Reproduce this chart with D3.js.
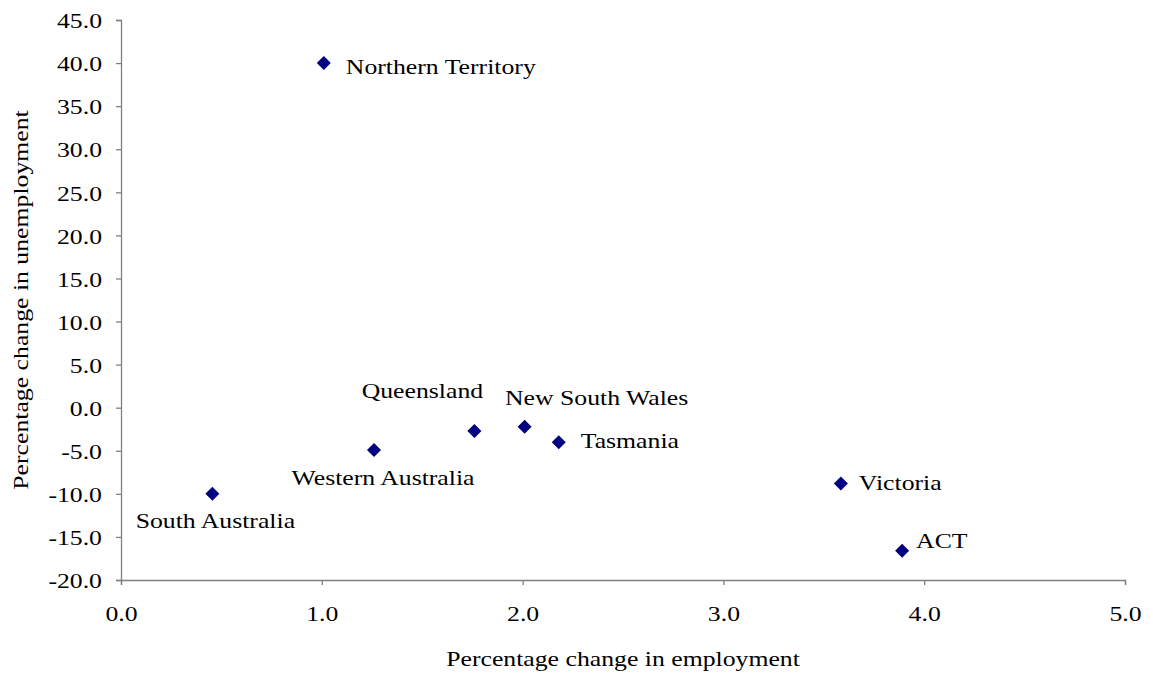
<!DOCTYPE html>
<html>
<head>
<meta charset="utf-8">
<script src="https://cdn.jsdelivr.net/npm/d3@7"></script>
<style>
  body { margin: 0; background: #fff; }
  text { font-family: "Liberation Serif", "Times New Roman", serif; fill: #000; }
</style>
</head>
<body>
<div id="container"></div>
<script>
// states / territories
const names = ['Northern Territory', 'Queensland', 'New South Wales', 'Tasmania',
               'Western Australia', 'South Australia', 'Victoria', 'ACT'];
// percentage change in employment
const employment = [1.01, 1.76, 2.01, 2.18, 1.26, 0.455, 3.585, 3.89];
// percentage change in unemployment
const unemployment = [40.0, -2.7, -2.2, -4.0, -4.9, -10.0, -8.8, -16.6];

const xTicks = [0, 1, 2, 3, 4, 5];
const yTicks = [-20, -15, -10, -5, 0, 5, 10, 15, 20, 25, 30, 35, 40, 45];

// label placement relative to each point
const labelPos = {
    'Northern Territory': [22, 11, 'start'],
    'Queensland': [-52, -33, 'middle'],
    'New South Wales': [72, -22, 'middle'],
    'Tasmania': [22, 6, 'start'],
    'Western Australia': [9, 35, 'middle'],
    'South Australia': [3, 34, 'middle'],
    'Victoria': [18, 6, 'start'],
    'ACT': [14, -3, 'start']
};

const w = 1153;
const h = 673;
const fontSize = '22px';
const stretch = 1.17;   // the original type is set wide

const xScale = d3.scaleLinear().domain([0, 5]).range([121, 1125]);
const yScale = d3.scaleLinear().domain([-20, 45]).range([580, 20]);

const svg = d3.select('#container')
                .append('svg')
                .attr('width', w)
                .attr('height', h);

const fmt = d => d.toFixed(1);
const xAxis = d3.axisBottom(xScale).tickValues(xTicks).tickSize(5).tickFormat(fmt);
const yAxis = d3.axisLeft(yScale).tickValues(yTicks).tickSize(5).tickFormat(fmt);

const gx = svg.append('g')
    .attr('transform', `translate(0, ${yScale(-20)})`)
    .call(xAxis);

const gy = svg.append('g')
    .attr('transform', `translate(${xScale(0)}, 0)`)
    .call(yAxis);

[gx, gy].forEach(g => {
    g.attr('font-family', null).attr('font-size', null);
    g.select('.domain').attr('stroke', '#808080').attr('stroke-width', 1.3);
    g.selectAll('.tick line').attr('stroke', '#808080').attr('stroke-width', 1.3);
    g.selectAll('.tick text')
        .style('font-size', fontSize)
        .attr('fill', '#000');
});
gy.selectAll('.tick text')
    .attr('x', -19 / stretch)
    .attr('dy', '0.35em')
    .attr('transform', `scale(${stretch},1)`);
gx.selectAll('.tick text')
    .attr('y', 41)
    .attr('dy', 0)
    .attr('transform', `scale(${stretch},1)`);

const points = names.map((n, i) => ({ name: n, x: employment[i], y: unemployment[i] }));

svg.append('g').selectAll('path')
    .data(points)
    .enter()
    .append('path')
    .attr('d', d3.symbol().type(d3.symbolDiamond2).size(125))
    .attr('transform', d => `translate(${xScale(d.x)}, ${yScale(d.y)})`)
    .attr('fill', '#000080');

svg.append('g').selectAll('text')
    .data(points)
    .enter()
    .append('text')
    .attr('transform', d => `translate(${xScale(d.x) + labelPos[d.name][0]}, ${yScale(d.y) + labelPos[d.name][1]}) scale(${stretch},1)`)
    .attr('text-anchor', d => labelPos[d.name][2])
    .style('font-size', fontSize)
    .text(d => d.name);

svg.append('text')
    .attr('transform', `translate(623, 666) scale(${stretch},1)`)
    .attr('text-anchor', 'middle')
    .style('font-size', fontSize)
    .text('Percentage change in employment');

svg.append('text')
    .attr('transform', `translate(28, 300) rotate(-90) scale(${stretch},1)`)
    .attr('text-anchor', 'middle')
    .style('font-size', fontSize)
    .text('Percentage change in unemployment');
</script>
</body>
</html>
